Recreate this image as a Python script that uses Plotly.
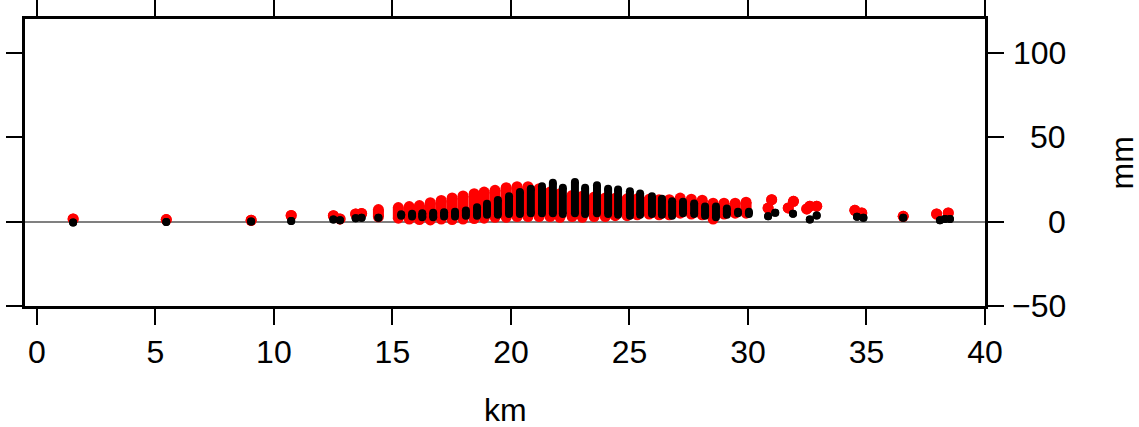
import plotly.graph_objects as go

# ---------------- data (km, mm) ----------------
# dense profile: each station shows a vertical spread of values (low .. high)
black_x = [1.53, 5.46, 9.04, 10.73, 12.51, 12.79, 13.45, 13.70, 14.41,
           15.37, 15.83, 16.26, 16.72, 17.18, 17.64, 18.10, 18.57, 18.99, 19.45,
           19.92, 20.38, 20.84, 21.31, 21.77, 22.19, 22.70, 23.13, 23.63, 24.10,
           24.52, 25.02, 25.45, 25.95, 26.37, 26.80, 27.26, 27.73, 28.19, 28.65,
           29.11, 29.58, 30.04,
           30.85, 31.15, 31.90, 32.61, 32.90, 34.60, 34.87, 36.55, 38.10, 38.31, 38.52]
black_lo = [-0.6, -0.3, 0.1, 0.3, 1.2, 0.8, 2.0, 2.3, 2.2,
            3.5, 3.0, 2.5, 2.5, 3.0, 3.0, 3.5, 3.5, 4.0, 4.0,
            4.5, 4.5, 5.0, 5.0, 5.0, 4.5, 5.0, 4.5, 5.0, 4.5,
            4.0, 3.5, 4.0, 4.5, 4.0, 3.5, 5.0, 4.5, 3.5, 2.5,
            4.0, 5.0, 4.5,
            3.1, 5.3, 4.6, 1.2, 3.6, 2.8, 2.2, 2.2, 0.8, 1.6, 1.6]
black_hi = [-0.6, -0.3, 0.1, 0.3, 1.2, 0.8, 2.0, 2.3, 2.2,
            4.4, 4.7, 4.9, 5.3, 5.6, 5.9, 6.5, 8.5, 10.5, 12.8,
            15.0, 17.5, 19.5, 21.0, 23.0, 20.0, 23.5, 20.0, 21.5, 19.5,
            19.0, 18.0, 16.6, 15.0, 13.6, 12.0, 11.8, 10.7, 8.9, 8.9,
            7.7, 5.9, 5.9,
            3.1, 5.3, 4.6, 1.2, 3.6, 2.8, 2.2, 2.2, 0.8, 1.6, 1.6]

red_x = [1.53, 5.46, 9.04, 10.73, 12.51, 12.79, 13.45, 13.70, 14.41,
         15.25, 15.71, 16.14, 16.60, 17.06, 17.52, 17.98, 18.45, 18.87, 19.33,
         19.80, 20.26, 20.72, 21.19, 21.65, 22.07, 22.58, 23.01, 23.51, 23.98,
         24.40, 24.90, 25.33, 25.83, 26.25, 26.68, 27.14, 27.61, 28.07, 28.53,
         28.99, 29.46, 29.92,
         30.85, 31.00, 31.70, 31.92, 32.48, 32.61, 32.90, 34.51, 34.80, 36.55,
         37.96, 38.45, 41.81, 42.24]
red_lo = [1.6, 1.2, 0.8, 3.6, 3.5, 1.6, 4.5, 4.8, 2.8,
          2.0, 1.5, 1.2, 1.0, 1.5, 1.2, 1.5, 1.8, 2.0, 2.5,
          2.5, 3.0, 3.0, 3.0, 3.0, 2.5, 3.0, 2.5, 3.0, 3.0,
          3.5, 3.5, 4.0, 4.5, 4.0, 4.0, 5.0, 4.5, 4.0, 1.5,
          4.5, 5.0, 5.0,
          8.0, 13.0, 8.1, 12.0, 7.5, 9.1, 9.1, 6.7, 5.1, 3.1,
          4.5, 5.1, 2.2, 11.0]
red_hi = [1.6, 1.2, 0.8, 3.6, 3.5, 1.6, 4.5, 4.8, 7.1,
          8.3, 8.9, 9.5, 11.2, 12.5, 14.0, 15.2, 16.5, 17.5, 18.5,
          20.1, 20.7, 20.7, 19.5, 17.5, 16.5, 15.5, 15.0, 14.5, 14.0,
          13.8, 13.5, 13.5, 13.2, 13.0, 13.0, 13.9, 13.3, 12.7, 10.9,
          10.9, 10.9, 11.5,
          8.0, 13.0, 8.1, 12.0, 7.5, 9.1, 9.1, 6.7, 5.1, 3.1,
          4.5, 5.1, 2.2, 11.0]

x_ticks = [0, 5, 10, 15, 20, 25, 30, 35, 40]
y_ticks = [-50, 0, 50, 100]
y_tick_text = ["\u221250", "0", "50", "100"]
x_title = "km"
y_title = "mm"

FONT = "Liberation Sans, Arial, Helvetica, sans-serif"
FS = 32


def column_trace(xs, lo, hi, color, size):
    X, Y = [], []
    for x, a, b in zip(xs, lo, hi):
        X += [x, x, None]
        Y += [a, b, None]
    return go.Scatter(x=X, y=Y, mode="lines+markers",
                      line=dict(color=color, width=size),
                      marker=dict(color=color, size=size, line=dict(width=0)),
                      cliponaxis=False, hoverinfo="skip", showlegend=False,
                      connectgaps=False)


fig = go.Figure()
fig.add_trace(column_trace(red_x, red_lo, red_hi, "#ff0000", 11))
fig.add_trace(column_trace(black_x, black_lo, black_hi, "#000000", 8))

fig.update_layout(
    width=1139, height=427, autosize=False,
    margin=dict(l=25, r=154, t=19, b=121, pad=0, autoexpand=False),
    paper_bgcolor="white", plot_bgcolor="white",
    font=dict(family=FONT, size=FS, color="black"),
)
fig.update_xaxes(range=[-0.5, 40], tickvals=x_ticks, ticks="outside", ticklen=16,
                 tickwidth=1.5, tickcolor="black", showline=True, linewidth=3,
                 linecolor="black", mirror="ticks", showgrid=False, zeroline=False,
                 automargin=False,
                 tickfont=dict(family=FONT, size=FS, color="black"))
fig.update_yaxes(range=[-50, 120], tickvals=y_ticks, ticks="outside", ticklen=16,
                 tickwidth=1.5, tickcolor="black", showline=True, linewidth=3,
                 linecolor="black", mirror="ticks", showgrid=False, zeroline=True,
                 automargin=False,
                 zerolinecolor="#808080", zerolinewidth=1.5, showticklabels=False)

for v, t in zip(y_ticks, y_tick_text):
    fig.add_annotation(text=t, xref="paper", yref="y", x=1.0865, y=v,
                       xanchor="right", yanchor="middle", showarrow=False,
                       font=dict(family=FONT, size=FS, color="black"))

fig.add_annotation(text=x_title, xref="x", yref="paper", x=19.75, y=-0.362,
                   xanchor="center", yanchor="middle", showarrow=False,
                   font=dict(family=FONT, size=FS, color="black"))
fig.add_annotation(text=y_title, xref="paper", yref="paper", x=1.1427, y=0.5,
                   xanchor="center", yanchor="middle", textangle=-90, showarrow=False,
                   font=dict(family=FONT, size=FS, color="black"))

fig.write_html("out.html", config={"displayModeBar": False},
               post_script="document.body.style.margin='0px';document.body.style.overflow='hidden';")
